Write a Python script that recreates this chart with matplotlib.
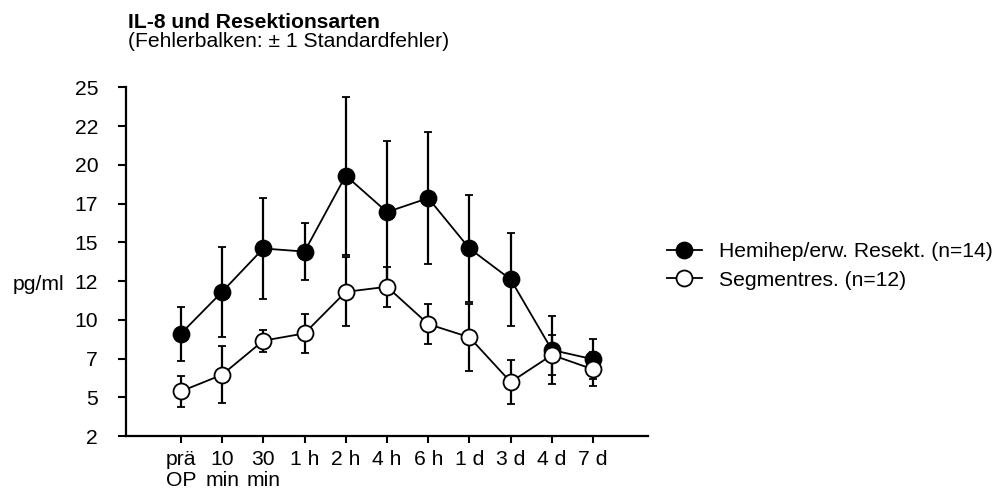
import matplotlib
matplotlib.use("Agg")
import matplotlib.pyplot as plt
import numpy as np

plt.rcParams['font.family'] = ['Liberation Sans', 'DejaVu Sans']

# Daten
zeitpunkte = ["prä\nOP", "10\nmin", "30\nmin", "1 h", "2 h", "4 h", "6 h", "1 d", "3 d", "4 d", "7 d"]
hemihep_mw = [9.1, 11.8, 14.6, 14.4, 19.3, 16.95, 17.85, 14.6, 12.6, 8.05, 7.45]
hemihep_se = [1.75, 2.88, 3.23, 1.83, 5.1, 4.6, 4.25, 3.44, 3.0, 2.2, 1.3]
segment_mw = [5.38, 6.45, 8.65, 9.12, 11.8, 12.13, 9.72, 8.87, 5.98, 7.73, 6.8]
segment_se = [1.0, 1.85, 0.7, 1.24, 2.23, 1.3, 1.27, 2.16, 1.4, 1.3, 1.1]

yticks = [2.5, 5, 7.5, 10, 12.5, 15, 17.5, 20, 22.5, 25]
ytick_labels = ["2", "5", "7", "10", "12", "15", "17", "20", "22", "25"]

FS = 15.2

fig = plt.figure(figsize=(10.04, 4.9), dpi=100)
ax = fig.add_axes([126 / 1004, 1 - 436 / 490, 522 / 1004, (436 - 87.3) / 490])

x = np.arange(len(zeitpunkte))
stil = dict(fmt="-o", color="black", ms=11.5, mec="black", mew=1.3,
            capsize=3, capthick=1.6, elinewidth=1.6, lw=1.3)
eb1 = ax.errorbar(x, hemihep_mw, yerr=hemihep_se, mfc="black", **stil)
eb2 = ax.errorbar(x, segment_mw, yerr=segment_se, mfc="white", **stil)

ax.set_xlim(-1.33, 11.33)
ax.set_ylim(2.5, 25)
ax.set_xticks(x)
ax.set_xticklabels(zeitpunkte, fontsize=FS, linespacing=1.12)
ax.set_yticks(yticks)
ax.set_yticklabels(ytick_labels, fontsize=FS)
ax.tick_params(axis="y", direction="out", length=6, width=1.5, pad=14)
ax.tick_params(axis="x", direction="out", length=5, width=1.5, pad=5)

for s in ["top", "right"]:
    ax.spines[s].set_visible(False)
for s in ["left", "bottom"]:
    ax.spines[s].set_linewidth(1.6)

fig.text(128 / 1004, 1 - 28 / 490, "IL-8 und Resektionsarten", fontsize=FS,
         fontweight="bold", va="baseline")
fig.text(128 / 1004, 1 - 47 / 490, "(Fehlerbalken: ± 1 Standardfehler)", fontsize=FS,
         va="baseline")
fig.text(13 / 1004, 1 - 284 / 490, "pg/ml", fontsize=FS, va="center")

ax.legend([eb1[0], eb2[0]], ["Hemihep/erw. Resekt. (n=14)", "Segmentres. (n=12)"],
          loc="center left", bbox_to_anchor=(667 / 1004, 1 - 266 / 490),
          bbox_transform=fig.transFigure, frameon=False, fontsize=FS,
          handlelength=1.65, handletextpad=0.8, labelspacing=0.45,
          borderpad=0, borderaxespad=0)

fig.savefig("out.png", dpi=100)
